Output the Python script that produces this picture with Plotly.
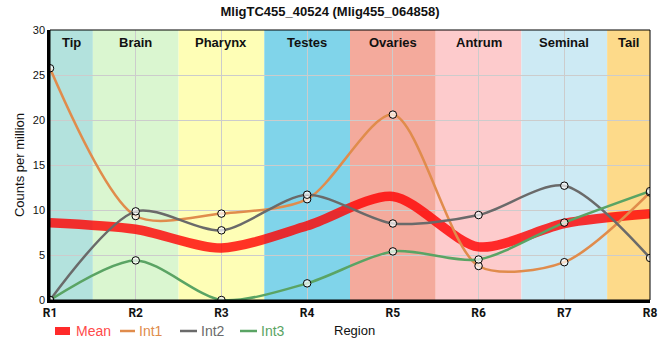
import plotly.graph_objects as go

regions = ["R1", "R2", "R3", "R4", "R5", "R6", "R7", "R8"]
tissues = ["Tip", "Brain", "Pharynx", "Testes", "Ovaries", "Antrum", "Seminal", "Tail"]
tissue_colors = ["#b3e2dd", "#daf6d0", "#fefeb6", "#80d4ea", "#f4aa9c", "#fdcbcc", "#cdeaf4", "#fdda8a"]

int1 = [25.75, 9.33, 9.6, 11.2, 20.6, 3.78, 4.2, 11.95]
int2 = [0.0, 9.85, 7.74, 11.7, 8.5, 9.44, 12.7, 4.67]
int3 = [0.0, 4.4, 0.0, 1.85, 5.4, 4.5, 8.6, 12.1]
mean = [(a + b + c) / 3 for a, b, c in zip(int1, int2, int3)]

xs = list(range(1, len(regions) + 1))

W, H = 660, 360
ML, MR, MT, MB = 50, 10, 30, 60
PW, PH = W - ML - MR, H - MT - MB


def px(xp):
    return (xp - ML) / PW


def py(yp):
    return (H - MB - yp) / PH


fig = go.Figure()

# region bands
for i, (t, c) in enumerate(zip(tissues, tissue_colors)):
    x0 = max(1, xs[i] - 0.5)
    x1 = min(len(regions), xs[i] + 0.5)
    fig.add_shape(type="rect", xref="x", yref="y", x0=x0, x1=x1, y0=0, y1=30,
                  fillcolor=c, line_width=0, layer="below")
    fig.add_annotation(x=(x0 + x1) / 2, y=28.6, text="<b>%s</b>" % t, showarrow=False,
                       font=dict(family="Liberation Sans, Arial", size=13, color="#111"))

SM = 0.8
fig.add_trace(go.Scatter(x=xs, y=mean, mode="lines", name="Mean", showlegend=False,
                         line=dict(color="rgba(255,0,0,0.8)", width=9.5, shape="spline", smoothing=SM)))

series = [("Int1", int1, "#e08c4c"), ("Int2", int2, "#6a6a6a"), ("Int3", int3, "#5aa464")]
for name, vals, col in series:
    fig.add_trace(go.Scatter(x=xs, y=vals, mode="lines", name=name, showlegend=False,
                             line=dict(color=col, width=2.5, shape="spline", smoothing=SM)))
for name, vals, col in series:
    fig.add_trace(go.Scatter(x=xs, y=vals, mode="markers", showlegend=False,
                             marker=dict(symbol="circle", size=7.5, color="rgba(255,255,255,0.7)",
                                         line=dict(color="black", width=1))))

fig.add_shape(type="rect", xref="paper", yref="paper", x0=0, x1=1, y0=0, y1=1,
              line=dict(color="black", width=1), layer="above")

# manual legend
legend_items = [("Mean", "#ff2a2a", "#ff4a4a", 8, 55, 70, 74),
                ("Int1", "#e08c4c", "#e08c4c", 2.5, 120, 135, 137),
                ("Int2", "#6a6a6a", "#6a6a6a", 2.5, 180, 197, 199),
                ("Int3", "#5aa464", "#5aa464", 2.5, 240, 257, 259)]
LY = 331
for name, lc, tc, lw, xa, xb, xt in legend_items:
    fig.add_shape(type="line", xref="paper", yref="paper", x0=px(xa), x1=px(xb),
                  y0=py(LY), y1=py(LY), line=dict(color=lc, width=lw))
    fig.add_annotation(xref="paper", yref="paper", x=px(xt), y=py(LY), text=name,
                       xanchor="left", yanchor="middle", showarrow=False,
                       font=dict(family="Liberation Sans, Arial", size=14, color=tc))
fig.add_annotation(xref="paper", yref="paper", x=px(332), y=py(LY), text="Region",
                   xanchor="left", yanchor="middle", showarrow=False,
                   font=dict(family="Liberation Sans, Arial", size=13, color="#111"))

fig.update_layout(
    width=W, height=H,
    margin=dict(l=ML, r=MR, t=MT, b=MB, autoexpand=False),
    paper_bgcolor="white", plot_bgcolor="white",
    title=dict(text="<b>MligTC455_40524 (Mlig455_064858)</b>", x=0.5, xanchor="center",
               y=1 - 11 / H, yanchor="middle", automargin=False,
               font=dict(family="Liberation Sans, Arial", size=13, color="#111")),
    font=dict(family="Liberation Sans, Arial", size=12, color="#111"),
    xaxis=dict(range=[1, 8], tickmode="array", tickvals=xs, automargin=False,
               ticktext=["<b>%s</b>" % r for r in regions],
               showgrid=True, gridcolor="#cccccc", gridwidth=1,
               showline=True, linecolor="black", linewidth=2.5, zeroline=False,
               ticks="", tickfont=dict(family="Roboto, Arial", size=12, color="#111")),
    yaxis=dict(range=[0, 30], tickmode="array", tickvals=[0, 5, 10, 15, 20, 25, 30],
               automargin=False,
               showgrid=True, gridcolor="#cccccc", gridwidth=1,
               showline=True, linecolor="black", linewidth=2.5, zeroline=False,
               ticks="", tickfont=dict(family="Liberation Sans, Arial", size=11, color="#111"),
               title=dict(text="Counts per million", standoff=6, font=dict(size=13))),
    showlegend=False,
)

fig.write_html("out.html", config={"displayModeBar": False},
               post_script="document.body.style.margin='0';document.body.style.padding='0';")
